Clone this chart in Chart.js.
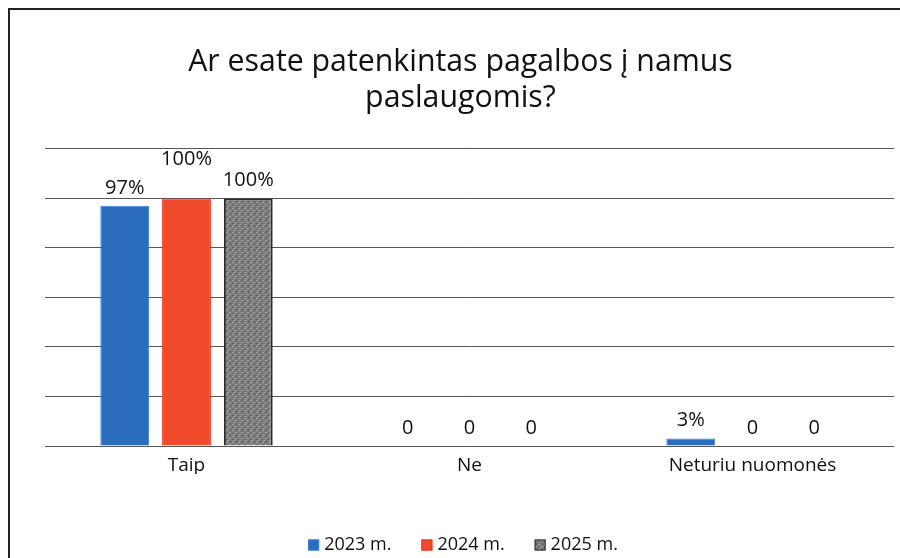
<!DOCTYPE html>
<html>
<head>
<meta charset="utf-8">
<script src="https://cdn.jsdelivr.net/npm/chart.js@4"></script>
<style>
  body { margin: 0; background: #fff; overflow: hidden; }
  #frame {
    position: absolute; left: 8px; top: 8px;
    width: 892px; height: 550px; overflow: hidden;
    border-left: 2px solid #222; border-top: 2px solid #222;
  }
  canvas { display: block; }
</style>
</head>
<body>
<div id="frame"><canvas id="chart" width="890" height="548"></canvas></div>
<script>
const categories = ["Taip", "Ne", "Neturiu nuomonės"];
const years = ["2023 m.", "2024 m.", "2025 m."];
const values2023 = [97, 0, 3];
const values2024 = [100, 0, 0];
const values2025 = [100, 0, 0];
const yTicks = [0, 20, 40, 60, 80, 100, 120];

const FONT = "'Open Sans', 'Noto Sans', sans-serif";

// speckled grey fill like the printed 2025 bar
function greyPattern() {
  const c = document.createElement("canvas");
  c.width = 6; c.height = 6;
  const g = c.getContext("2d");
  g.fillStyle = "#7a7a7a";
  g.fillRect(0, 0, 6, 6);
  g.fillStyle = "#a4a4a4";
  g.fillRect(0, 0, 2, 1); g.fillRect(3, 2, 2, 1); g.fillRect(1, 4, 2, 1);
  g.fillStyle = "#5c5c5c";
  g.fillRect(4, 0, 1, 1); g.fillRect(0, 3, 1, 1); g.fillRect(4, 5, 1, 1);
  return g.createPattern(c, "repeat");
}

// draw the value labels above each bar
const barLabels = {
  id: "barLabels",
  afterDatasetsDraw(chart) {
    const ctx = chart.ctx;
    ctx.save();
    ctx.font = "20px " + FONT;
    ctx.fillStyle = "#111";
    ctx.textAlign = "center";
    ctx.textBaseline = "middle";
    chart.data.datasets.forEach((ds, i) => {
      chart.getDatasetMeta(i).data.forEach((bar, j) => {
        const v = ds.data[j];
        const txt = v > 0 ? v + "%" : "0";
        let lift = 18;
        if (i === 1 && j === 0) lift = 39; // label sits higher in the original
        ctx.fillText(txt, bar.x, bar.y - lift);
      });
    });
    ctx.restore();
  }
};

// legend drawn by hand so the swatch/text spacing matches the original
const bottomLegend = {
  id: "bottomLegend",
  afterDraw(chart) {
    const ctx = chart.ctx;
    const box = 11, gapIn = 5, gapOut = 30;
    ctx.save();
    ctx.font = "18px " + FONT;
    ctx.textBaseline = "middle";
    const items = chart.data.datasets.map(ds => ({ ds, w: ctx.measureText(ds.label).width }));
    let total = items.reduce((s, it) => s + box + gapIn + it.w, 0) + gapOut * (items.length - 1);
    let x = 453 - total / 2;
    const y = chart.height - 13;
    items.forEach(it => {
      ctx.fillStyle = it.ds.backgroundColor;
      ctx.fillRect(x, y - box / 2, box, box);
      ctx.strokeStyle = it.ds.borderColor;
      ctx.lineWidth = 1;
      ctx.strokeRect(x + 0.5, y - box / 2 + 0.5, box - 1, box - 1);
      x += box + gapIn;
      ctx.fillStyle = "#111";
      ctx.fillText(it.ds.label, x, y);
      x += it.w + gapOut;
    });
    ctx.restore();
  }
};

new Chart(document.getElementById("chart").getContext("2d"), {
  type: "bar",
  data: {
    labels: categories,
    datasets: [
      { label: years[0], data: values2023, backgroundColor: "#2b6dbd", borderColor: "#3b82d8", borderWidth: 1 },
      { label: years[1], data: values2024, backgroundColor: "#ee4a2b", borderColor: "#f42c1c", borderWidth: 1 },
      { label: years[2], data: values2025, backgroundColor: greyPattern(), borderColor: "#2a2a2a", borderWidth: 2 }
    ]
  },
  options: {
    responsive: false,
    animation: false,
    categoryPercentage: 0.655,
    barPercentage: 0.79,
    layout: { padding: { left: 17, right: 6, top: 0, bottom: 84 } },
    scales: {
      x: {
        grid: { display: false },
        border: { display: false },
        ticks: { color: "#111", font: { family: FONT, size: 19 }, padding: 0 },
        afterFit: (axis) => { axis.height = 28; }
      },
      y: {
        min: 0,
        max: 120,
        afterBuildTicks: (axis) => { axis.ticks = yTicks.map(v => ({ value: v })); },
        afterFit: (axis) => { axis.width = 18; },
        ticks: { display: false },
        border: { display: false },
        grid: { color: "#555", lineWidth: 1, borderDash: [3, 2], drawTicks: false }
      }
    },
    plugins: {
      title: {
        display: true,
        text: ["Ar esate patenkintas pagalbos į namus", "paslaugomis?"],
        color: "#111",
        font: { family: FONT, size: 30.3, weight: "normal", lineHeight: 1.17 },
        padding: { top: 35, bottom: 33 }
      },
      legend: { display: false },
      tooltip: { enabled: false }
    }
  },
  plugins: [barLabels, bottomLegend]
});
</script>
</body>
</html>
